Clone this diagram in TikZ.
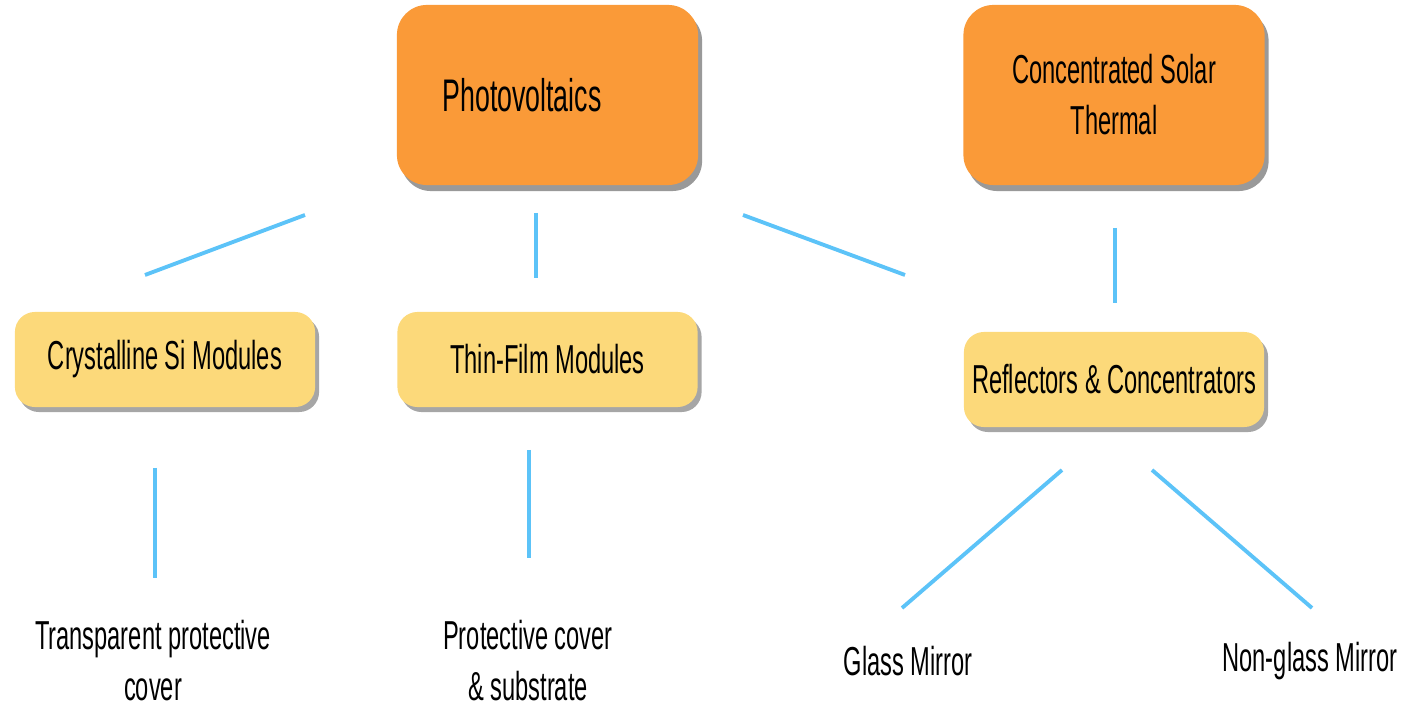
\documentclass[tikz,border=0pt]{standalone}
\usepackage{fontspec}
\setmainfont{Liberation Sans}[FakeStretch=0.585]
\usetikzlibrary{shadows}
\definecolor{boxorange}{HTML}{FA9A38}
\definecolor{boxyellow}{HTML}{FCD97A}
\definecolor{linkblue}{HTML}{5CC3F8}
\tikzset{
  topbox/.style={fill=boxorange, rounded corners=0.3cm, minimum width=3.01cm,
    minimum height=1.8cm, align=center,
    drop shadow={shadow xshift=0.04cm, shadow yshift=-0.06cm, opacity=0.4, fill=black}},
  subbox/.style={fill=boxyellow, rounded corners=0.2cm, minimum width=3.0cm,
    minimum height=0.95cm, inner xsep=0.05cm, align=center,
    drop shadow={shadow xshift=0.04cm, shadow yshift=-0.05cm, opacity=0.35, fill=black}},
  leaf/.style={align=center},
  link/.style={draw=linkblue, line width=1.1pt}
}
\begin{document}
\begin{tikzpicture}[x=0.01cm, y=-0.01cm, font=\fontsize{11.5}{14.5}\selectfont]
    \useasboundingbox (0,0) rectangle (1410,707);
    % the two technologies
    \node[topbox, text width=2.1cm, align=left] (pv) at (547.5,95) {\fontsize{13}{14.5}\selectfont Photovoltaics};
    \node[topbox] (cst) at (1114,95) {Concentrated Solar\\Thermal};
    % the components
    \node[subbox] (cs) at (165,359.5) {Crystalline Si Modules};
    \node[subbox] (tf) at (547.5,359.5) {Thin-Film Modules};
    \node[subbox] (rc) at (1114,379.5) {Reflectors \& Concentrators};
    % the materials
    \node[leaf] (tp) at (153,661) {Transparent protective\\cover};
    \node[leaf] (pc) at (528,661) {Protective cover\\\& substrate};
    \node[leaf] (gm) at (908,661) {Glass Mirror};
    \node[leaf] (ng) at (1310,661) {Non-glass Mirror};
    % ends of the links
    \coordinate (pv-cs) at (305,215);  \coordinate (cs-pv) at (145,275);
    \coordinate (pv-tf) at (536,213);  \coordinate (tf-pv) at (536,278);
    \coordinate (pv-rc) at (743,215);  \coordinate (rc-pv) at (905,275);
    \coordinate (cst-rc) at (1115,228); \coordinate (rc-cst) at (1115,303);
    \coordinate (cs-tp) at (155,468);  \coordinate (tp-cs) at (155,578);
    \coordinate (tf-pc) at (529,450);  \coordinate (pc-tf) at (529,558);
    \coordinate (rc-gm) at (1062,470); \coordinate (gm-rc) at (902,608);
    \coordinate (rc-ng) at (1152,470); \coordinate (ng-rc) at (1312,608);
    \foreach \a/\b in {pv/cs, pv/tf, pv/rc, cst/rc, cs/tp, tf/pc, rc/gm, rc/ng}
        \draw[link] (\a-\b) -- (\b-\a);
\end{tikzpicture}
\end{document}
